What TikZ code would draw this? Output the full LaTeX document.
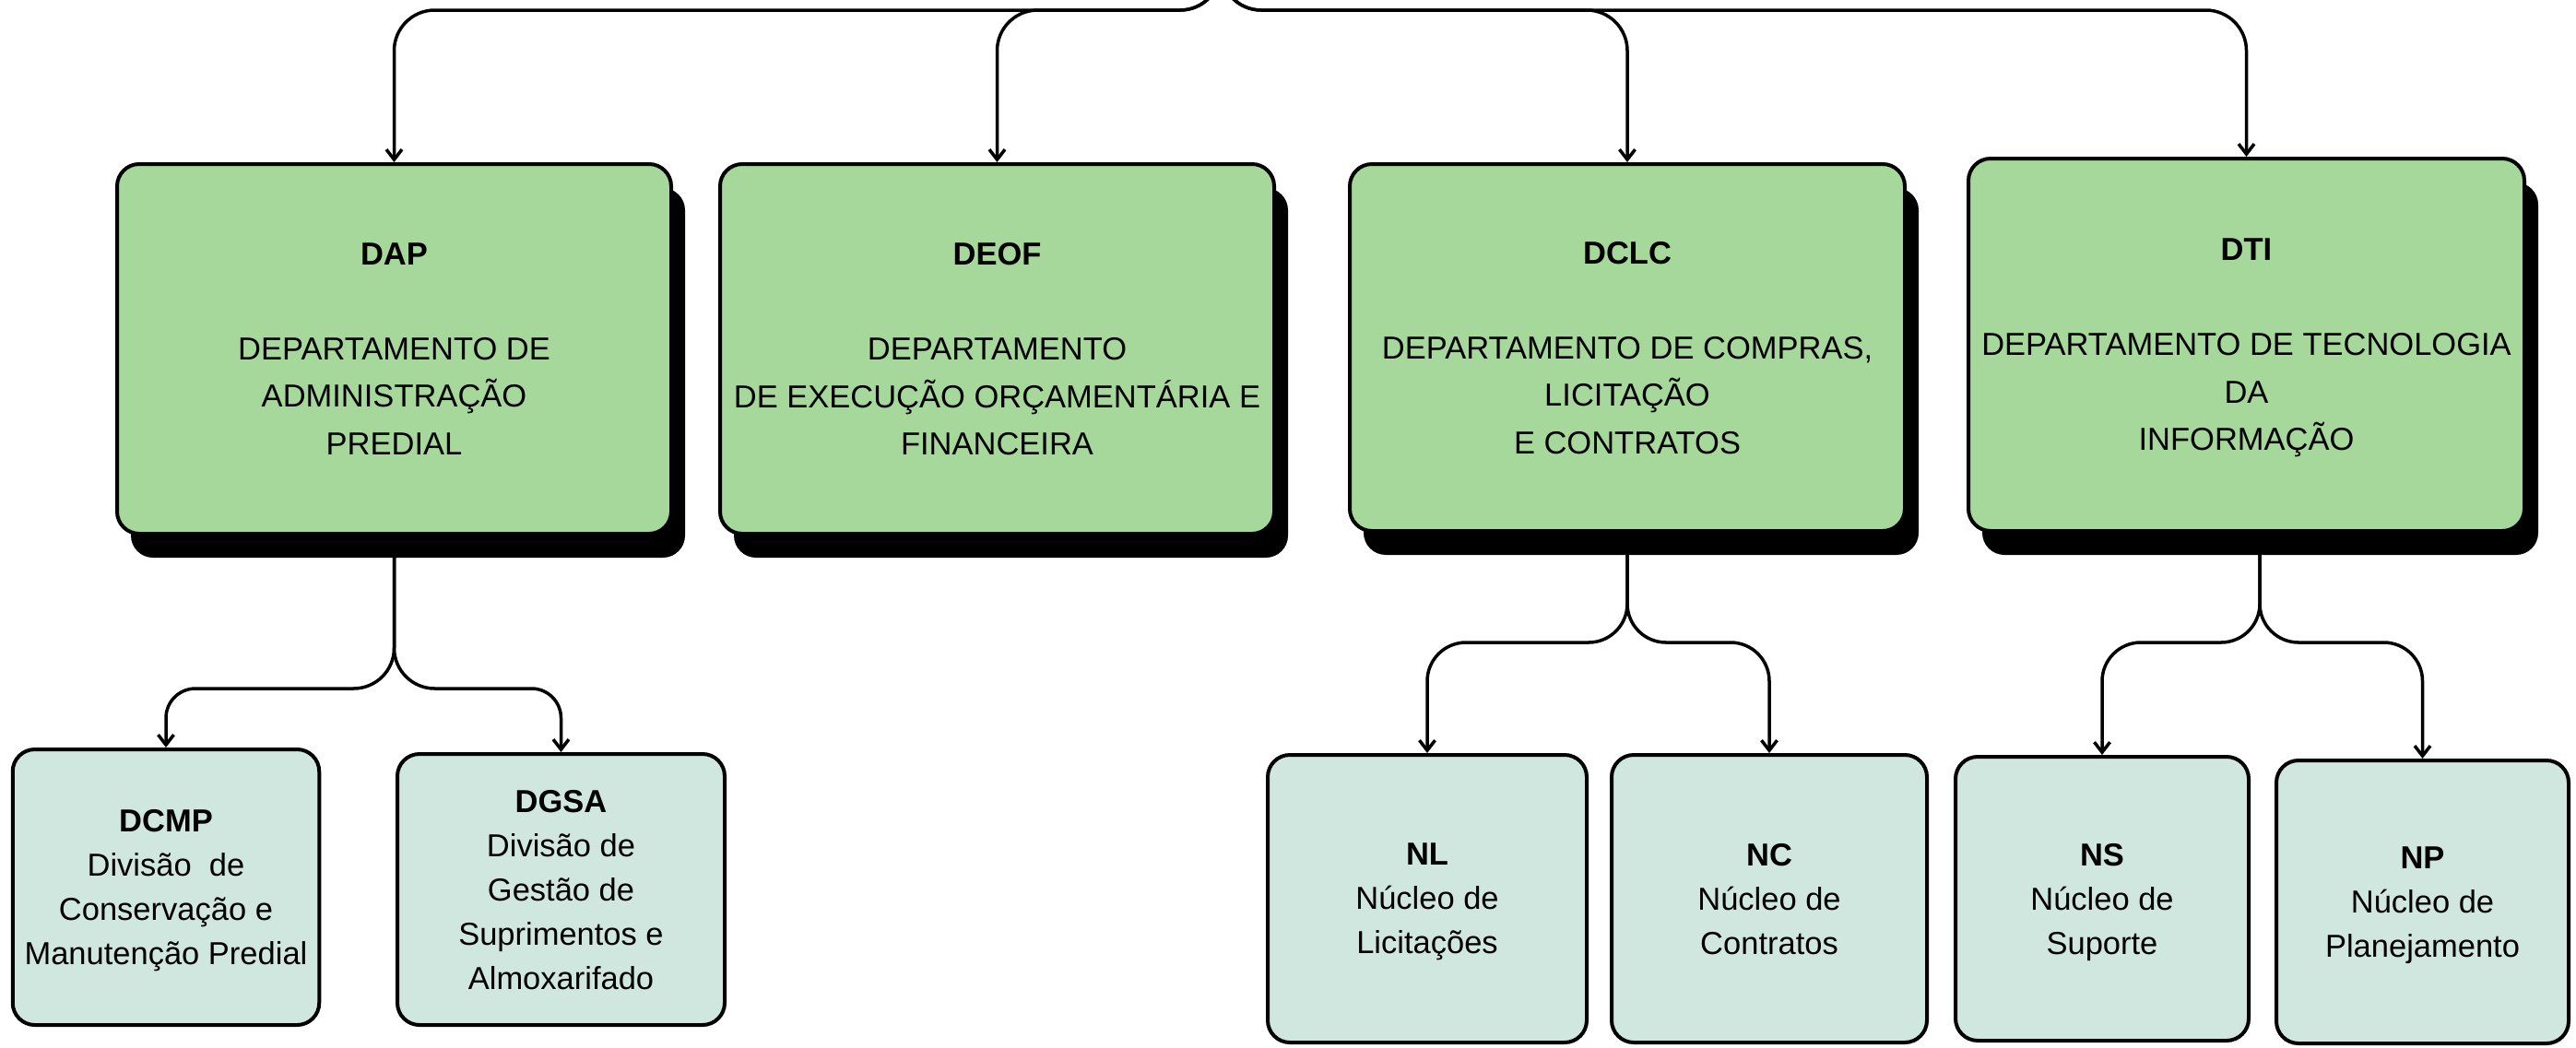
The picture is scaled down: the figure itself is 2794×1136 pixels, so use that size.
\documentclass[tikz,border=0pt]{standalone}
\usepackage{fontspec}
\setmainfont{Liberation Sans}
\usetikzlibrary{arrows.meta,shadows,calc}
\definecolor{boxgreen}{HTML}{A6D89B}
\definecolor{boxmint}{HTML}{CFE7DE}
\begin{document}
\begin{tikzpicture}[x=1pt,y=-1pt,
  dept/.style={draw=black, line width=4pt, rounded corners=24pt, fill=boxgreen,
    align=center, inner sep=0pt, text depth=0pt, font=\fontsize{34.5}{51.5}\selectfont,
    drop shadow={shadow xshift=15pt, shadow yshift=-26pt, fill=black, opacity=1}},
  unit/.style={draw=black, line width=4pt, rounded corners=24pt, fill=boxmint,
    align=center, inner sep=0pt, text depth=0pt, font=\fontsize{34.5}{48}\selectfont},
  edge/.style={line width=3.5pt, -{Straight Barb[length=11pt,width=17pt]}}
]
\useasboundingbox (0,0) rectangle (2794,1136);

% departments
\node[dept, minimum width=601pt, minimum height=401pt] (DAP) at (427.5,378.5)
  {\textbf{DAP}\\[51.5pt]DEPARTAMENTO DE\\ADMINISTRAÇÃO\\PREDIAL};
\node[dept, minimum width=601pt, minimum height=401pt] (DEOF) at (1081.5,378.5)
  {\textbf{DEOF}\\[51.5pt]DEPARTAMENTO\\DE EXECUÇÃO ORÇAMENTÁRIA E\\FINANCEIRA};
\node[dept, minimum width=602pt, minimum height=398pt] (DCLC) at (1765,377)
  {\textbf{DCLC}\\[51.5pt]DEPARTAMENTO DE COMPRAS,\\LICITAÇÃO\\E CONTRATOS};
\node[dept, minimum width=603pt, minimum height=404pt] (DTI) at (2436.5,374)
  {\textbf{DTI}\\[51.5pt]DEPARTAMENTO DE TECNOLOGIA\\DA\\INFORMAÇÃO};

% units
\node[unit, minimum width=332.5pt, minimum height=299pt] (DCMP) at (180,962.5)
  {\textbf{DCMP}\\Divisão~~de\\Conservação e\\Manutenção Predial};
\node[unit, minimum width=355pt, minimum height=294pt] (DGSA) at (608.5,965)
  {\textbf{DGSA}\\Divisão de\\Gestão de\\Suprimentos e\\Almoxarifado};
\node[unit, minimum width=346pt, minimum height=312pt] (NL) at (1548,975)
  {\textbf{NL}\\Núcleo de\\Licitações};
\node[unit, minimum width=342pt, minimum height=312pt] (NC) at (1919,975)
  {\textbf{NC}\\Núcleo de\\Contratos};
\node[unit, minimum width=318pt, minimum height=308pt] (NS) at (2280,975)
  {\textbf{NS}\\Núcleo de\\Suporte};
\node[unit, minimum width=317pt, minimum height=307pt] (NP) at (2627.5,978.5)
  {\textbf{NP}\\Núcleo de\\Planejamento};

% connector points
\coordinate (root) at (1324,-80);
\coordinate (bus) at (1324,11);
\coordinate (dapsplit) at (427.5,747);
\coordinate (dclcsplit) at (1765,697);
\coordinate (dtistem) at ($(DTI.south)+(14.5,0)$);
\coordinate (dtisplit) at (2451,697);

% top connectors
\draw[edge, rounded corners=44pt] (root) -- (bus) -| (DAP.north);
\draw[edge, rounded corners=44pt] (root) -- (bus) -| (DEOF.north);
\draw[edge, rounded corners=44pt] (root) -- (bus) -| (DCLC.north);
\draw[edge, rounded corners=44pt] (root) -- (bus) -| (DTI.north);

% lower connectors
\draw[edge, rounded corners=44pt] (DAP.south) -- (dapsplit) [rounded corners=32pt] -| (DCMP.north);
\draw[edge, rounded corners=44pt] (DAP.south) -- (dapsplit) [rounded corners=32pt] -| (DGSA.north);
\draw[edge, rounded corners=42pt] (DCLC.south) -- (dclcsplit) -| (NL.north);
\draw[edge, rounded corners=42pt] (DCLC.south) -- (dclcsplit) -| (NC.north);
\draw[edge, rounded corners=42pt] (dtistem) -- (dtisplit) -| (NS.north);
\draw[edge, rounded corners=42pt] (dtistem) -- (dtisplit) -| (NP.north);
\end{tikzpicture}
\end{document}
